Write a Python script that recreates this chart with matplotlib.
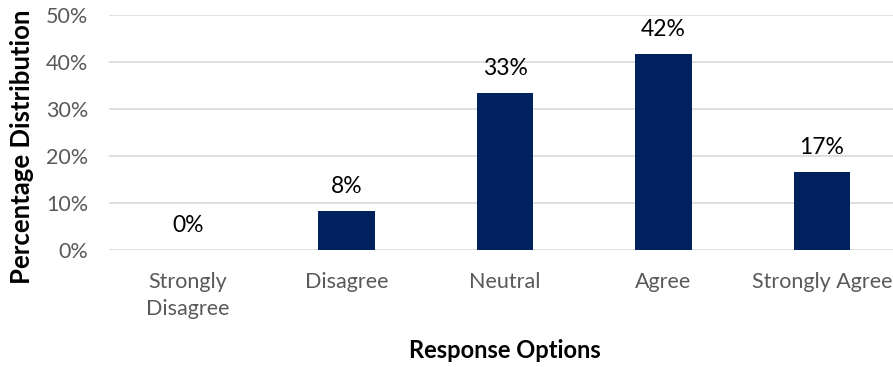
import numpy as np
import matplotlib.pyplot as plt

categories = ["Strongly\nDisagree", "Disagree", "Neutral", "Agree", "Strongly Agree"]
percentages = [0.0, 8.33, 33.33, 41.67, 16.67]
labels = ["0%", "8%", "33%", "42%", "17%"]
yticks = [0, 10, 20, 30, 40, 50]

plt.rcParams['font.family'] = ['Lato', 'DejaVu Sans']

fig = plt.figure(figsize=(8.93, 3.67), dpi=100)
ax = fig.add_axes([0.122, 0.319, 0.887, 0.64])

x = np.arange(len(categories))
ax.bar(x, percentages, width=0.355, color="#00215E", zorder=3)
for xi, v, lab in zip(x, percentages, labels):
    ax.text(xi, v + 3.0, lab, ha="center", va="bottom", fontsize=16.5, color="black")

ax.set_xlim(-0.5, len(categories) - 0.5)
ax.set_ylim(0, 50)
ax.set_yticks(yticks)
ax.set_yticklabels([f"{t}%" for t in yticks], fontsize=15.5, color="#595959")
ax.set_xticks(x)
ax.set_xticklabels(categories, fontsize=15.5, color="#595959", linespacing=1.45)
ax.tick_params(axis="y", length=0, pad=15)
ax.tick_params(axis="x", length=0, pad=16)
ax.grid(axis="y", color="#d9d9d9", linewidth=1.2, zorder=0)
for s in ax.spines.values():
    s.set_visible(False)

ax.set_ylabel("Percentage Distribution", fontsize=18.5, fontweight="bold")
ax.yaxis.set_label_coords(-0.095, 0.44)
ax.set_xlabel("Response Options", fontsize=17, fontweight="bold", labelpad=14)

fig.savefig("out.png", dpi=100)
